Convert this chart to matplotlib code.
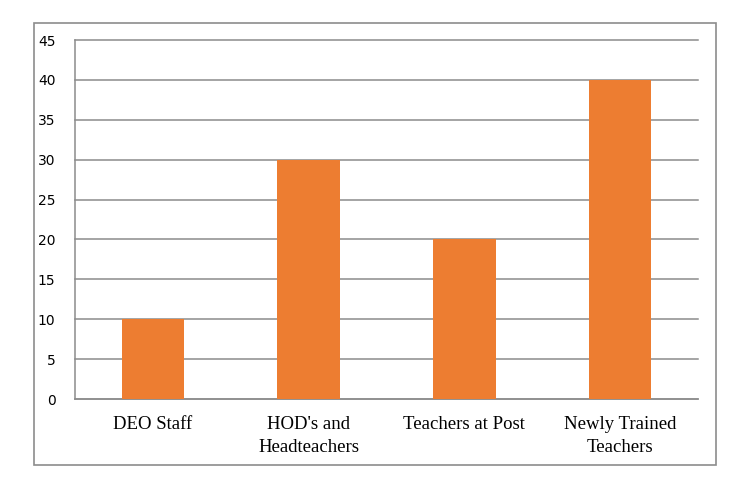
import matplotlib
matplotlib.use("Agg")
import matplotlib.pyplot as plt
from matplotlib.patches import Rectangle

categories = ["DEO Staff", "HOD's and\nHeadteachers", "Teachers at Post", "Newly Trained\nTeachers"]
values = [10, 30, 20, 40]
yticks = [0, 5, 10, 15, 20, 25, 30, 35, 40, 45]

W, H = 755, 490
fig = plt.figure(figsize=(W / 100, H / 100), dpi=100)

# outer chart border
fig.patches.append(Rectangle((34 / W, 1 - 465 / H), (716 - 34) / W, (465 - 23) / H,
                             transform=fig.transFigure, fill=False,
                             edgecolor="#8c8c8c", linewidth=1.2))

ax = fig.add_axes([75 / W, 1 - 399 / H, (698 - 75) / W, (399 - 40) / H])
x = range(len(categories))
ax.bar(x, values, width=0.4, color="#ED7D31", zorder=3)

ax.set_xlim(-0.5, len(categories) - 0.5)
ax.set_ylim(0, 45)
ax.set_yticks(yticks)
ax.yaxis.grid(True, color="#8c8c8c", linewidth=1.1)
ax.set_axisbelow(True)
for gl in ax.get_ygridlines():
    gl.set_clip_on(False)
for s in ["top", "right"]:
    ax.spines[s].set_visible(False)
for s in ["left", "bottom"]:
    ax.spines[s].set_color("#8c8c8c")
    ax.spines[s].set_linewidth(1.1)

ax.tick_params(axis="y", length=0, pad=14, labelsize=10)
ax.tick_params(axis="x", length=0, pad=12.5)
ax.set_xticks(list(x))
ax.set_xticklabels(categories, fontfamily="Liberation Serif", fontsize=13.5,
                   linespacing=1.4, va="top")
for lab in ax.get_yticklabels():
    lab.set_fontfamily("DejaVu Sans")

fig.savefig("out.png", dpi=100, facecolor="white")
